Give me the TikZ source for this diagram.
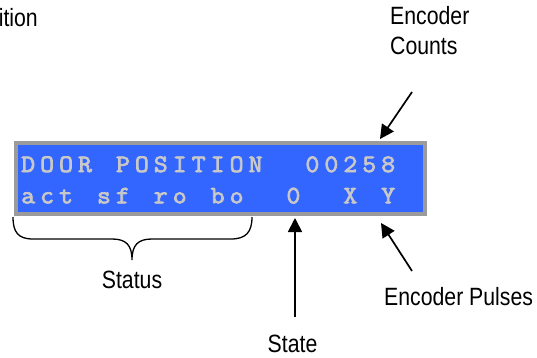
\documentclass[tikz,border=0pt]{standalone}
\usepackage{fontspec}
\setmainfont{Liberation Sans}[FakeStretch=0.85]
\newfontfamily\lcdfont{Latin Modern Mono}[FakeBold=3, FakeStretch=1.08]
\usetikzlibrary{arrows.meta}
\definecolor{lcdblue}{RGB}{51,102,255}
\definecolor{lcdgray}{RGB}{155,155,155}
\definecolor{lcdtext}{RGB}{200,200,200}
\newcommand\lk[1]{\makebox[18.95pt][c]{#1}}
\tikzset{
  label/.style={font=\fontsize{25}{30}\selectfont, inner sep=0pt, text=black},
  lcdrow/.style={font=\lcdfont\fontsize{25}{25}\selectfont, text=lcdtext, inner sep=0pt, anchor=base west},
  pointer/.style={-{Triangle[length=14pt,width=14pt]}, line width=1.7pt, black},
  bracestyle/.style={line width=1.3pt, black}
}
\begin{document}
\begin{tikzpicture}[x=1pt,y=-1pt]
\useasboundingbox (0,0) rectangle (537,358);
\fill[white] (0,0) rectangle (537,358);
% LCD
\node (lcd) [rectangle, fill=lcdblue, draw=lcdgray, line width=4.4pt, minimum width=408.75pt, minimum height=71.25pt, inner sep=0pt, anchor=north west] at (14,140.75) {};
\node (row1) [lcdrow] at (18.5,172) {\lk{D}\lk{O}\lk{O}\lk{R}\lk{}\lk{P}\lk{O}\lk{S}\lk{I}\lk{T}\lk{I}\lk{O}\lk{N}\lk{}\lk{}\lk{0}\lk{0}\lk{2}\lk{5}\lk{8}};
\node (row2) [lcdrow] at (18.5,203.3) {\lk{a}\lk{c}\lk{t}\lk{}\lk{s}\lk{f}\lk{}\lk{r}\lk{o}\lk{}\lk{b}\lk{o}\lk{}\lk{}\lk{0}\lk{}\lk{}\lk{X}\lk{}\lk{Y}};
% labels
\node (pos) [label, anchor=base east] at (38,27) {ition};
\node (enc1) [label, anchor=base west] at (390,25) {Encoder};
\node (enc2) [label, anchor=base west] at (390,55) {Counts};
\node (status) [label, anchor=base] at (132,288) {Status};
\node (state) [label, anchor=base] at (292.5,352) {State};
\node (pulses) [label, anchor=base west] at (384,305) {Encoder Pulses};
% arrow ends
\coordinate (cntTail) at (412,92);
\coordinate (cntTip) at (380,139);
\coordinate (stTail) at (295,317);
\coordinate (stTip) at (295,218);
\coordinate (plTail) at (412,271);
\coordinate (plTip) at (381,223);
\draw[pointer] (cntTail) -- (cntTip);
\draw[pointer] (stTail) -- (stTip);
\draw[pointer] (plTail) -- (plTip);
% brace
\coordinate (brL) at (13,217);
\coordinate (brTip) at (132,260);
\coordinate (brR) at (252,217);
\draw[bracestyle] (brL) .. controls (13,232) and (18,239) .. (33,239) -- (112,239)
  .. controls (126,239) and (132,245) .. (brTip)
  .. controls (132,245) and (138,239) .. (152,239) -- (231,239)
  .. controls (246,239) and (252,232) .. (brR);
\end{tikzpicture}
\end{document}
